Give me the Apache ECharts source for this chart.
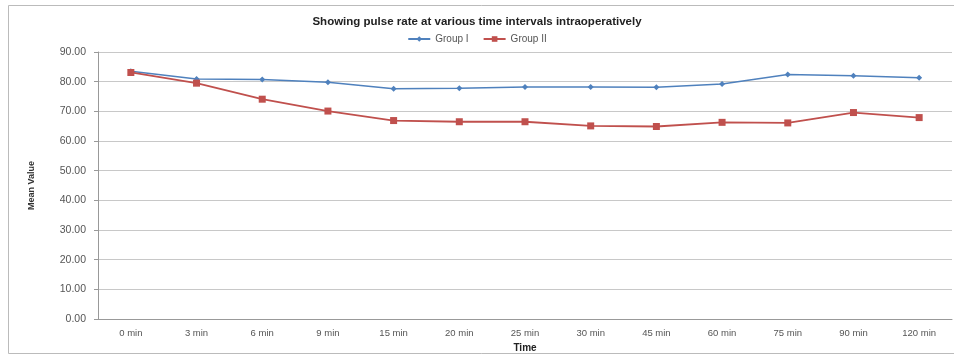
<!DOCTYPE html>
<html><head><meta charset="utf-8">
<script src="https://cdn.jsdelivr.net/npm/echarts@6/dist/echarts.min.js"></script>
<style>html,body{margin:0;padding:0;background:#fff}#c{width:954px;height:358px}</style>
</head><body><div id="c"></div>
<script>
const categories = ['0 min','3 min','6 min','9 min','15 min','20 min','25 min','30 min','45 min','60 min','75 min','90 min','120 min'];
const groupI  = [83.5, 80.9, 80.7, 79.8, 77.6, 77.8, 78.2, 78.2, 78.1, 79.2, 82.4, 82.0, 81.3];
const groupII = [83.1, 79.5, 74.1, 70.1, 66.9, 66.5, 66.5, 65.1, 64.9, 66.3, 66.1, 69.6, 67.9];
const chart = echarts.init(document.getElementById('c'));
chart.setOption({
  animation: false,
  graphic: [{type:'rect', shape:{x:8.5,y:5.5,width:960,height:348}, style:{fill:'none', stroke:'#bbb', lineWidth:1}}],
  title: {text:'Showing pulse rate at various time intervals intraoperatively', left:'center', top:11,
    textStyle:{fontFamily:'Liberation Sans', fontSize:11.5, fontWeight:'bold', color:'#222'}},
  legend: {top:29, left:'center', itemWidth:22, itemHeight:7, itemGap:14,
    textStyle:{fontFamily:'Liberation Sans', fontSize:10, color:'#555'},
    data:['Group I','Group II']},
  grid: {left:98, right:2, top:52, bottom:35},
  xAxis: {type:'category', data:categories, boundaryGap:true,
    name:'Time', nameLocation:'middle', nameGap:21,
    nameTextStyle:{fontFamily:'Liberation Sans', fontSize:10, fontWeight:'bold', color:'#222'},
    axisLine:{lineStyle:{color:'#999'}}, axisTick:{alignWithLabel:false, lineStyle:{color:'#999'}, length:3},
    axisLabel:{fontFamily:'Liberation Sans', fontSize:9.5, color:'#555', margin:9}},
  yAxis: {type:'value', min:0, max:90, interval:10,
    name:'Mean Value', nameLocation:'middle', nameGap:62, nameRotate:90,
    nameTextStyle:{fontFamily:'Liberation Sans', fontSize:9, fontWeight:'bold', color:'#333'},
    axisLine:{show:true, lineStyle:{color:'#999'}}, axisTick:{show:true, length:4, lineStyle:{color:'#999'}},
    splitLine:{lineStyle:{color:'#c8c8c8'}},
    axisLabel:{fontFamily:'Liberation Sans', fontSize:10.5, color:'#555', margin:12, formatter:v=>v.toFixed(2)}},
  series: [
    {name:'Group I', type:'line', data:groupI, symbol:'diamond', symbolSize:6,
      itemStyle:{color:'#4F81BD'}, lineStyle:{color:'#4F81BD', width:1.5}},
    {name:'Group II', type:'line', data:groupII, symbol:'rect', symbolSize:7,
      itemStyle:{color:'#C0504D'}, lineStyle:{color:'#C0504D', width:1.8}}
  ]
});
</script></body></html>
